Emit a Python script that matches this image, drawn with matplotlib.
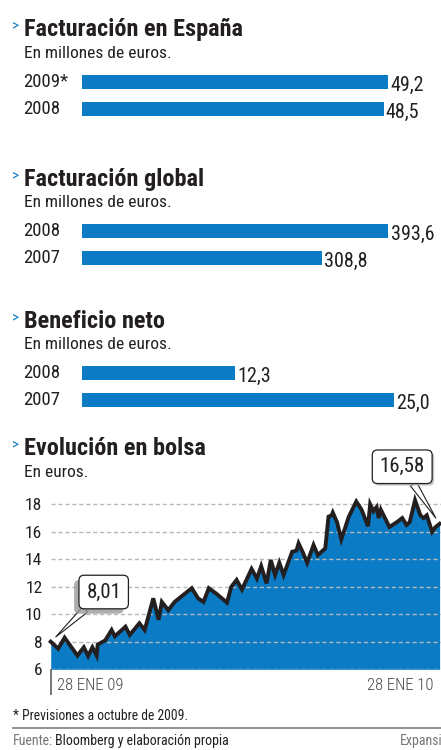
import matplotlib
matplotlib.use('Agg')
import matplotlib.pyplot as plt
import matplotlib.patheffects as pe

# datos
espana_years = ['2009*', '2008']
espana_vals = [49.2, 48.5]
global_years = ['2008', '2007']
global_vals = [393.6, 308.8]
neto_years = ['2008', '2007']
neto_vals = [12.3, 25.0]

# evolucion en bolsa (dias desde 28 ene 09, euros)
days = [0, 7, 13, 25, 31, 35, 39, 43, 44, 51, 57, 60, 70, 74, 83, 88, 96, 101,
        104, 110, 116, 132, 138, 143, 148, 155, 165, 169, 174, 179, 188, 193,
        197, 202, 206, 210, 214, 218, 226, 230, 232, 236, 240, 246, 250, 257,
        260, 263, 264, 268, 272, 279, 286, 291, 297, 299, 302, 305, 307, 309,
        317, 324, 329, 333, 336, 341, 346, 349, 352, 357, 360, 364]
price = [8.01, 7.5, 8.3, 7.0, 7.6, 6.97, 7.6, 7.0, 7.8, 8.1, 8.86, 8.4, 9.1,
         8.5, 9.35, 8.86, 11.16, 9.6, 10.9, 10.3, 10.9, 11.9, 11.16, 10.9, 11.9,
         11.5, 10.85, 12.0, 12.5, 11.8, 13.3, 12.6, 13.5, 12.25, 13.95, 12.86,
         13.75, 12.86, 14.55, 14.63, 15.16, 14.5, 13.75, 15.04, 14.3, 14.8,
         17.1, 17.2, 17.4, 16.7, 15.45, 17.1, 18.2, 17.6, 16.4, 18.0, 17.5,
         17.8, 17.0, 17.6, 16.35, 16.7, 17.0, 16.5, 16.7, 18.3, 17.2, 17.0,
         17.2, 16.0, 16.33, 16.58]
yticks = [6, 8, 10, 12, 14, 16, 18]

W, H = 441, 750
BLUE = '#0a7bc4'
DARK = '#231f20'

plt.rcParams['font.family'] = ['Roboto Condensed', 'DejaVu Sans']

fig = plt.figure(figsize=(W / 100, H / 100), dpi=100)
fig.patch.set_facecolor('white')


def fx(px):
    return px / W


def fy(py):
    return 1 - py / H


def header(title, subtitle, title_base, sub_base):
    fig.text(fx(12), fy(title_base - 6), '>', color=BLUE, fontsize=11,
             va='baseline', ha='left')
    fig.text(fx(24), fy(title_base), title, color=DARK, fontsize=17.5,
             fontweight='bold', va='baseline', ha='left')
    fig.text(fx(24), fy(sub_base), subtitle, color=DARK, fontsize=12.5,
             va='baseline', ha='left')


def bar_panel(years, vals, c1, xmax):
    d = 27.0
    top = c1 - d / 2
    ax = fig.add_axes([fx(81.7), fy(top + 2 * d), fx(W - 81.7), 2 * d / H])
    ax.barh(range(len(vals)), vals, height=0.53, color=BLUE)
    ax.set_ylim(1.5, -0.5)
    ax.set_xlim(0, xmax)
    ax.axis('off')
    for i, (y, v) in enumerate(zip(years, vals)):
        fig.text(fx(23), fy(c1 + i * d), y, color=DARK, fontsize=13.5,
                 va='center', ha='left')
        ax.annotate(('%.1f' % v).replace('.', ','), xy=(v, i),
                    xytext=(1.5, -2), textcoords='offset points',
                    color=DARK, fontsize=14.5, va='center', ha='left',
                    annotation_clip=False)
    return ax


header('Facturación en España', 'En millones de euros.', 36, 58)
bar_panel(espana_years, espana_vals, 82.2, 57.7)

header('Facturación global', 'En millones de euros.', 186, 207)
bar_panel(global_years, global_vals, 231.2, 461)

header('Beneficio neto', 'En millones de euros.', 328, 349)
bar_panel(neto_years, neto_vals, 373.3, 28.8)

header('Evolución en bolsa', 'En euros.', 455, 477)

# grafico de bolsa
y6, ppu = 669.3, 13.75
ymax = 19
ax = fig.add_axes([fx(50.7), fy(y6), fx(W - 50.7), (ymax - 6) * ppu / H])
ax.fill_between(days, price, 6, color=BLUE, lw=0, zorder=1)
for t in yticks:
    ax.axhline(t, color='#b8b8b8', lw=1, ls=(0, (3, 2)), zorder=2)
ax.plot(days, price, color=DARK, lw=2.8, solid_joinstyle='miter', zorder=3,
        clip_on=False)
ax.set_xlim(0, 365.3)
ax.set_ylim(6, ymax)
for s in ax.spines.values():
    s.set_visible(False)
ax.set_yticks(yticks)
ax.set_yticklabels([str(t) for t in yticks], fontsize=12.5, color=DARK)
ax.tick_params(axis='y', length=0, pad=6)
ax.set_xticks([0])
ax.set_xticklabels([''])
ax.tick_params(axis='x', length=19, width=1.1, color='#555555', direction='out')
ax.text(5.5, -0.09, '28 ENE 09', transform=ax.get_xaxis_transform(),
        fontsize=12, fontweight='light', color='#444444', ha='left',
        va='center')
ax.text(358, -0.09, '28 ENE 10', transform=ax.get_xaxis_transform(),
        fontsize=12, fontweight='light', color='#444444', ha='right',
        va='center')

box = dict(boxstyle='round,pad=0.35,rounding_size=0.25', fc='white',
           ec=DARK, lw=0.9)
arrow = dict(arrowstyle='wedge,tail_width=0.35,shrink_factor=0.5',
             fc='white', ec=DARK, lw=0.8, shrinkA=0, shrinkB=5)
a1 = ax.annotate('8,01', xy=(days[0], price[0]), xytext=(49.6, 11.62),
                 fontsize=15, color=DARK, ha='center', va='center',
                 bbox=box, arrowprops=arrow, annotation_clip=False, zorder=5)
a1.get_bbox_patch().set_path_effects(
    [pe.SimplePatchShadow(offset=(-3.5, -3.5), shadow_rgbFace='#999999',
                          alpha=0.8), pe.Normal()])
a2 = ax.annotate('16,58', xy=(days[-1], price[-1]), xytext=(329, 20.73),
                 fontsize=15, color=DARK, ha='center', va='center',
                 bbox=box, arrowprops=arrow, annotation_clip=False, zorder=5)
a2.get_bbox_patch().set_path_effects(
    [pe.SimplePatchShadow(offset=(1.5, -1.5), shadow_rgbFace='#bbbbbb',
                          alpha=0.8), pe.Normal()])

# pie
fig.text(fx(13), fy(720), '* Previsiones a octubre de 2009.', color=DARK,
         fontsize=9.8, va='baseline', ha='left')
fig.add_artist(plt.Line2D([fx(13), fx(W)], [fy(728.3), fy(728.3)],
                          color='#888888', lw=1.3))
fig.text(fx(13), fy(745), 'Fuente:', color='#777777', fontsize=10,
         va='baseline', ha='left')
fig.text(fx(55), fy(745), 'Bloomberg y elaboración propia', color=DARK,
         fontsize=10, va='baseline', ha='left')
fig.text(fx(400), fy(745), 'Expansión', color='#777777', fontsize=10,
         va='baseline', ha='left')

fig.savefig('out.png', dpi=100)
